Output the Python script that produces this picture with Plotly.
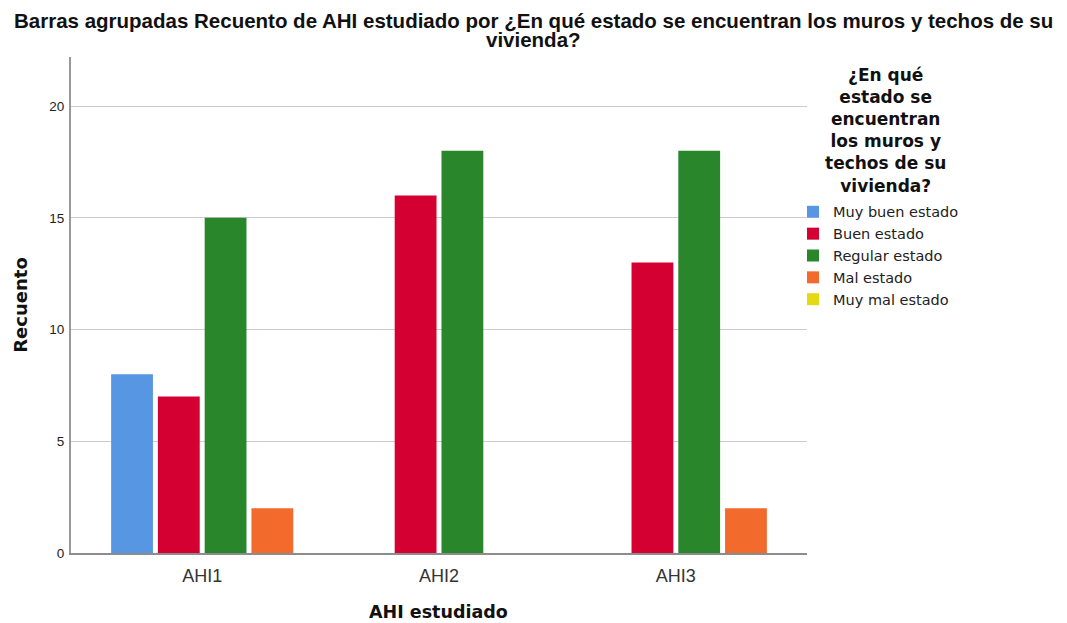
import plotly.graph_objects as go

categories = ["AHI1", "AHI2", "AHI3"]
series_names = ["Muy buen estado", "Buen estado", "Regular estado", "Mal estado", "Muy mal estado"]
muy_buen = [8, None, None]
buen = [7, 16, 13]
regular = [15, 18, 18]
mal = [2, None, 2]
muy_mal = [None, None, None]
values = [muy_buen, buen, regular, mal, muy_mal]
colors = ["#5796e3", "#d50032", "#29862b", "#f26b2c", "#e4da14"]
groups = ["a", "b", "c", "d", "d"]

title_line1 = "Barras agrupadas Recuento de AHI estudiado por ¿En qué estado se encuentran los muros y techos de su"
title_line2 = "vivienda?"
legend_title = "¿En qué<br>estado se<br>encuentran<br>los muros y<br>techos de su<br>vivienda?"

fig = go.Figure()
for name, vals, col, g in zip(series_names, values, colors, groups):
    fig.add_trace(go.Bar(
        x=categories, y=vals, name=name, offsetgroup=g,
        marker=dict(color=col, line=dict(width=0)),
    ))

bold = "DejaVu Sans, sans-serif"
fig.update_layout(
    width=1067, height=623,
    barmode="group", bargap=0.21, bargroupgap=0.106,
    paper_bgcolor="white", plot_bgcolor="white",
    margin=dict(l=71, r=260, t=57, b=70),
    font=dict(family="Liberation Sans, Arial, sans-serif", color="#222"),
    xaxis=dict(
        range=[-0.554, 2.554], showgrid=False, showline=True,
        linecolor="#8c8c8c", linewidth=2, ticks="",
        tickfont=dict(size=18, color="#333"), ticklabelstandoff=5,
    ),
    yaxis=dict(
        range=[0, 22.2], tickvals=[0, 5, 10, 15, 20],
        showgrid=True, gridcolor="#cccccc", gridwidth=1,
        showline=True, linecolor="#999999", linewidth=2,
        ticks="", tickfont=dict(size=13.5, color="#222"),
        zeroline=False, ticklabelstandoff=2,
    ),
    legend=dict(
        x=0.981, xanchor="left", y=0.72, yanchor="top",
        font=dict(family="DejaVu Sans, sans-serif", size=14.5, color="#222"),
        itemsizing="constant", tracegroupgap=0,
        bgcolor="rgba(0,0,0,0)",
    ),
    showlegend=True,
    annotations=[
        dict(text="<b>" + title_line1 + "</b>", xref="paper", yref="paper",
             x=0.628, y=1.0726, xanchor="center", yanchor="middle", showarrow=False,
             font=dict(family="Liberation Sans, Arial, sans-serif", size=20.5, color="#111")),
        dict(text="<b>" + title_line2 + "</b>", xref="paper", yref="paper",
             x=0.628, y=1.0343, xanchor="center", yanchor="middle", showarrow=False,
             font=dict(family="Liberation Sans, Arial, sans-serif", size=20.5, color="#111")),
        dict(text="<b>" + legend_title + "</b>",
             xref="paper", yref="paper", x=1.106, y=0.988, xanchor="center", yanchor="top",
             showarrow=False, align="center",
             font=dict(family=bold, size=17, color="#111")),
        dict(text="<b>Recuento</b>", xref="paper", yref="paper", x=-0.0696, xanchor="center",
             y=0.5, yanchor="middle", textangle=-90, showarrow=False,
             font=dict(family=bold, size=18, color="#111")),
        dict(text="<b>AHI estudiado</b>", xref="paper", yref="paper", x=0.499, xanchor="center",
             y=-0.119, yanchor="middle", showarrow=False,
             font=dict(family=bold, size=17.5, color="#111")),
    ],
)

fig.write_html("out.html", config={"displayModeBar": False},
               post_script="document.body.style.margin='0';")
